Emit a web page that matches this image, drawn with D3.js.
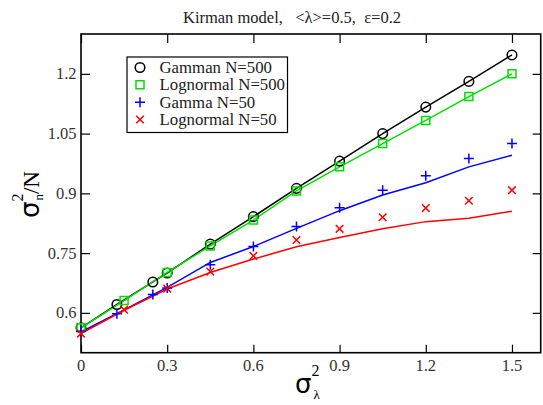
<!DOCTYPE html>
<meta charset="utf-8">
<style>
html, body { margin: 0; padding: 0; background: #fff; }
.frame { fill: none; stroke: #000; stroke-width: 1.6; }
.tick line { stroke: #000; stroke-width: 1.2; }
</style>
<div id="container"></div>
<script src="https://cdnjs.cloudflare.com/ajax/libs/d3/7.8.5/d3.min.js"></script>
<script>

// values
var xGamma = [0, 0.125, 0.25, 0.3, 0.45, 0.6, 0.75, 0.9, 1.05, 1.2, 1.35, 1.5];
var xLogn = [0, 0.15, 0.3, 0.45, 0.6, 0.75, 0.9, 1.05, 1.2, 1.35, 1.5];

var gamma500 = [0.5625, 0.621, 0.6775, 0.70, 0.7725, 0.8415, 0.9125, 0.981, 1.05, 1.1165, 1.181, 1.2475];
var logn500 = [0.5625, 0.631, 0.7015, 0.768, 0.833, 0.906, 0.9665, 1.025, 1.083, 1.143, 1.2];
var gamma50 = [0.554, 0.5975, 0.6458, 0.6625, 0.7208, 0.7665, 0.8165, 0.864, 0.908, 0.944, 0.9875, 1.025];
var logn50 = [0.548, 0.608, 0.661, 0.7035, 0.743, 0.783, 0.811, 0.84, 0.863, 0.8815, 0.908];

// the two solid curves for N=50 (no markers)
var gamma50Line = [0.552, 0.6075, 0.664, 0.7265, 0.7665, 0.812, 0.8565, 0.896, 0.9265, 0.9665, 0.9958];
var logn50Line = [0.548, 0.6065, 0.66, 0.7015, 0.735, 0.766, 0.789, 0.811, 0.829, 0.8375, 0.855];

var xTicks = [0, 0.3, 0.6, 0.9, 1.2, 1.5];
var yTicks = [0.6, 0.75, 0.9, 1.05, 1.2];

var legendLabels = ["Gamman N=500", "Lognormal N=500", "Gamma N=50", "Lognormal N=50"];

var W = 543, H = 405;
var pL = 81, pR = 540.7, pT = 34, pB = 352.7;
var SERIF = "'Liberation Serif', 'DejaVu Serif', serif";
var SANS = "'DejaVu Sans', sans-serif";

var svg = d3.select("#container").append("svg")
    .attr("width", W).attr("height", H)
    .style("font-family", SERIF);

var x = d3.scaleLinear().domain([0, 1.6]).range([pL, pR]);
var y = d3.scaleLinear().domain([0.5, 1.3]).range([pB, pT]);

function pts(xs, ys) { return xs.map(function(v, i) { return [v, ys[i]]; }); }
var line = d3.line().x(function(d) { return x(d[0]); }).y(function(d) { return y(d[1]); });

// axes (ticks pointing inward, mirrored on top/right)
svg.append("g")
    .attr("transform", "translate(0," + pB + ")")
    .call(d3.axisTop(x).tickValues(xTicks).tickSize(8).tickFormat(""))
    .call(function(g) { g.select(".domain").remove(); });
svg.append("g")
    .attr("transform", "translate(0," + pT + ")")
    .call(d3.axisBottom(x).tickValues(xTicks).tickSize(9).tickFormat(""))
    .call(function(g) { g.select(".domain").remove(); });
svg.append("g")
    .attr("transform", "translate(" + pL + ",0)")
    .call(d3.axisRight(y).tickValues(yTicks).tickSize(9).tickFormat(""))
    .call(function(g) { g.select(".domain").remove(); });
svg.append("g")
    .attr("transform", "translate(" + pR + ",0)")
    .call(d3.axisLeft(y).tickValues(yTicks).tickSize(8).tickFormat(""))
    .call(function(g) { g.select(".domain").remove(); });

// tick labels
svg.append("g").selectAll("text")
    .data(xTicks).enter().append("text")
    .style("font-family", SERIF).style("font-size", "16.5px").attr("fill", "#333")
    .attr("x", function(d) { return x(d); })
    .attr("y", 370.5)
    .attr("text-anchor", "middle")
    .text(function(d) { return d3.format("")(d); });
svg.append("g").selectAll("text")
    .data(yTicks).enter().append("text")
    .style("font-family", SERIF).style("font-size", "16.5px").attr("fill", "#333")
    .attr("x", 76.5)
    .attr("y", function(d) { return y(d) + 5.5; })
    .attr("text-anchor", "end")
    .text(function(d) { return d3.format("")(d); });

svg.append("rect").attr("class", "frame")
    .attr("x", pL).attr("y", pT)
    .attr("width", pR - pL).attr("height", pB - pT);

// lines
svg.append("path").datum(pts(xGamma, gamma500)).attr("d", line)
    .attr("fill", "none").attr("stroke", "#000").attr("stroke-width", 1.5);
svg.append("path").datum(pts(xLogn, logn500)).attr("d", line)
    .attr("fill", "none").attr("stroke", "#00e000").attr("stroke-width", 1.5);
svg.append("path").datum(pts(xLogn, gamma50Line)).attr("d", line)
    .attr("fill", "none").attr("stroke", "#0000ff").attr("stroke-width", 1.5);
svg.append("path").datum(pts(xLogn, logn50Line)).attr("d", line)
    .attr("fill", "none").attr("stroke", "#ff0000").attr("stroke-width", 1.5);

// markers
var sCircle = d3.symbol().type(d3.symbolCircle).size(72);
var sSquare = d3.symbol().type(d3.symbolSquare).size(64);
var sPlus = function(g) { g.attr("d", "M-5,0H5M0,-5V5"); };
var sCross = function(g) { g.attr("d", "M-3.8,-3.8L3.8,3.8M-3.8,3.8L3.8,-3.8"); };

function markers(data, color, shape) {
  svg.append("g").selectAll("path").data(data).enter().append("path")
      .attr("transform", function(d) { return "translate(" + x(d[0]) + "," + y(d[1]) + ")"; })
      .attr("fill", "none").attr("stroke", color).attr("stroke-width", 1.5)
      .call(shape);
}
markers(pts(xGamma, gamma500), "#000", function(g) { g.attr("d", sCircle); });
markers(pts(xLogn, logn500), "#00e000", function(g) { g.attr("d", sSquare); });
markers(pts(xGamma, gamma50), "#0000ff", sPlus);
markers(pts(xLogn, logn50), "#ff0000", sCross);

// legend
var lg = svg.append("g");
lg.append("rect").attr("x", 127).attr("y", 57).attr("width", 160.5).attr("height", 75.5)
    .attr("fill", "#fff").attr("stroke", "#000").attr("stroke-width", 1.2);
var legendColors = ["#000", "#00e000", "#0000ff", "#ff0000"];
var legendShapes = [function(g) { g.attr("d", sCircle); }, function(g) { g.attr("d", sSquare); }, sPlus, sCross];
var rowY = d3.scaleLinear().domain([0, 3]).range([67.5, 119.5]);
legendLabels.forEach(function(lbl, i) {
  lg.append("path").attr("transform", "translate(140," + rowY(i) + ")")
      .attr("fill", "none").attr("stroke", legendColors[i]).attr("stroke-width", 1.5)
      .call(legendShapes[i]);
  lg.append("text").attr("x", 159.5).attr("y", rowY(i) + 5.5)
      .style("font-family", SERIF).style("font-size", "16.8px").attr("fill", "#222").text(lbl);
});

// title
svg.append("text").attr("x", 292).attr("y", 23).attr("text-anchor", "middle")
    .style("font-family", SERIF).style("font-size", "16.5px").style("white-space", "pre").attr("fill", "#222")
    .text("Kirman model,   <\u03bb>=0.5,  \u03b5=0.2");

// x axis title
var xt = svg.append("text").attr("x", 295).attr("y", 393).attr("fill", "#000").style("font-family", SERIF);
xt.append("tspan").style("font-family", SANS).style("font-size", "26px").text("\u03c3");
xt.append("tspan").attr("dy", -17).style("font-size", "16px").text("2");
xt.append("tspan").attr("dx", -6).attr("dy", 23).style("font-size", "13px").text("\u03bb");

// y axis title
var yt = svg.append("text").attr("transform", "translate(39,218) rotate(-90)").attr("fill", "#000").style("font-family", SERIF);
yt.append("tspan").style("font-family", SANS).style("font-size", "26px").text("\u03c3");
yt.append("tspan").attr("dy", -16).style("font-size", "16px").text("2");
yt.append("tspan").attr("dx", -7).attr("dy", 20).style("font-size", "13px").text("n");
yt.append("tspan").attr("dy", -4).style("font-size", "23px").text("/N");

</script>
